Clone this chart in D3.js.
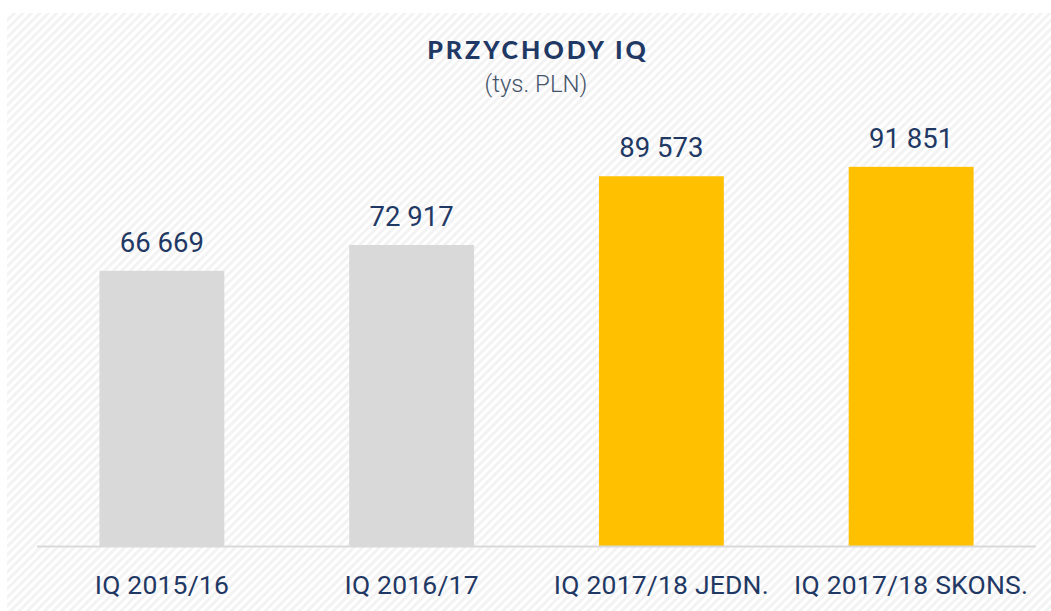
<!DOCTYPE html>
<html>
<head>
<meta charset="utf-8">
<script src="https://cdn.jsdelivr.net/npm/d3@7"></script>
<style>
  body { margin: 0; background: #fff; }
  svg { display: block; }
</style>
</head>
<body>
<div class="canvas"></div>
<script>
const categories = ['IQ 2015/16', 'IQ 2016/17', 'IQ 2017/18 JEDN.', 'IQ 2017/18 SKONS.']
const values = [66669, 72917, 89573, 91851]
const barColors = ['#d9d9d9', '#d9d9d9', '#ffc000', '#ffc000']

const width = 1051
const height = 611
const margin = { top: 0, right: 15, bottom: 65, left: 37 }
const baseline = height - margin.bottom

const svg = d3.select('.canvas')
    .append('svg')
    .attr('width', width)
    .attr('height', height)

// striped background
const defs = svg.append('defs')
const pat = defs.append('pattern')
    .attr('id', 'stripes')
    .attr('patternUnits', 'userSpaceOnUse')
    .attr('width', 6)
    .attr('height', 6)
    .attr('patternTransform', 'rotate(45)')
pat.append('rect').attr('width', 6).attr('height', 6).attr('fill', '#ffffff')
pat.append('rect').attr('width', 3).attr('height', 6).attr('fill', '#f3f3f3')

svg.append('rect')
    .attr('x', 7)
    .attr('y', 13)
    .attr('width', width - 7)
    .attr('height', height - 13)
    .attr('fill', 'url(#stripes)')

// scales
const x = d3.scaleBand()
    .domain(categories)
    .range([margin.left, width - margin.right])
    .paddingInner(0.5)
    .paddingOuter(0.25)

const y = d3.scaleLinear()
    .domain([0, 100000])
    .range([baseline, baseline - 412.8])

// bars
svg.append('g')
    .selectAll('rect')
    .data(values)
    .enter()
    .append('rect')
    .attr('x', (d, i) => x(categories[i]))
    .attr('y', d => y(d))
    .attr('width', x.bandwidth())
    .attr('height', d => baseline - y(d))
    .attr('fill', (d, i) => barColors[i])

// axis line
svg.append('line')
    .attr('x1', margin.left)
    .attr('x2', width - margin.right)
    .attr('y1', baseline + 0.5)
    .attr('y2', baseline + 0.5)
    .attr('stroke', '#d9d9d9')
    .attr('stroke-width', 2)

// value labels
const fmt = d => d3.format(',')(d).replace(/,/g, ' ')
svg.append('g')
    .selectAll('text')
    .data(values)
    .enter()
    .append('text')
    .attr('x', (d, i) => x(categories[i]) + x.bandwidth() / 2)
    .attr('y', d => y(d) - 19)
    .attr('text-anchor', 'middle')
    .style('font-family', 'Roboto, sans-serif')
    .style('font-size', '27.5px')
    .style('fill', '#1f3864')
    .text(fmt)

// category labels
svg.append('g')
    .selectAll('text')
    .data(categories)
    .enter()
    .append('text')
    .attr('x', d => x(d) + x.bandwidth() / 2)
    .attr('y', 594)
    .attr('text-anchor', 'middle')
    .style('font-family', 'Roboto, sans-serif')
    .style('font-size', '26.5px')
    .style('letter-spacing', '0.2px')
    .style('fill', '#1f3864')
    .text(d => d)

// title
svg.append('text')
    .attr('x', 538)
    .attr('y', 59)
    .attr('text-anchor', 'middle')
    .style('font-family', 'Lato, sans-serif')
    .style('font-weight', 900)
    .style('font-size', '25px')
    .style('letter-spacing', '3px')
    .style('fill', '#1f3864')
    .text('PRZYCHODY IQ')

svg.append('text')
    .attr('x', 536)
    .attr('y', 92)
    .attr('text-anchor', 'middle')
    .style('font-family', 'Roboto, sans-serif')
    .style('font-weight', 300)
    .style('font-size', '24px')
    .style('fill', '#44546a')
    .text('(tys. PLN)')
</script>
</body>
</html>
